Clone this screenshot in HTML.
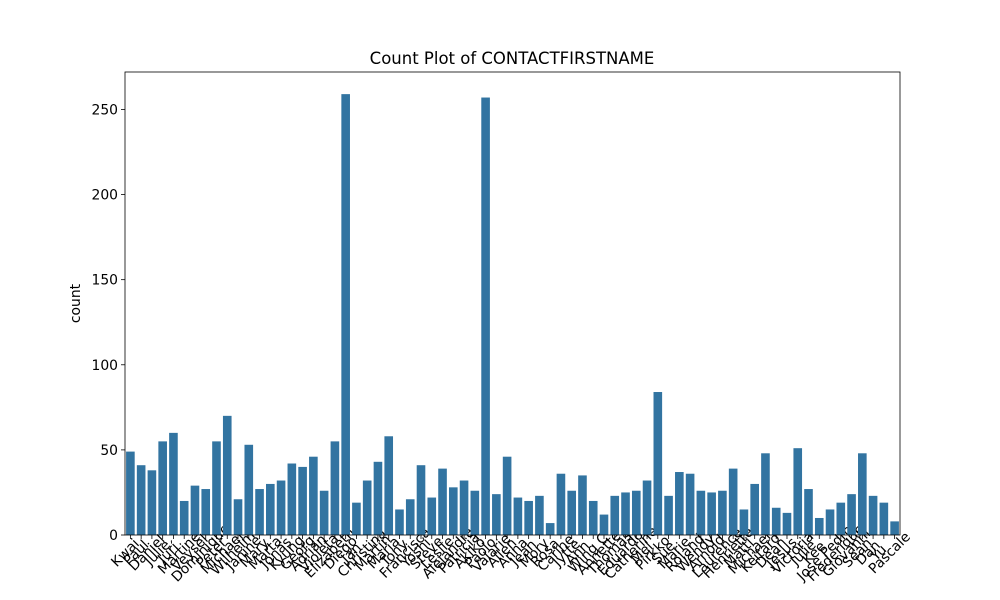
<!DOCTYPE html>
<html><head><meta charset="utf-8"><style>
body{margin:0;background:#fff}
svg{display:block;font-family:"DejaVu Sans","Liberation Sans",sans-serif}
</style></head><body>
<svg id="chart" width="1000" height="600" viewBox="0 0 1000 600"></svg>
<script>
const categories=["Kwai","Paul","Daniel","Julie","Jurí","Martine","Veysel","Dominique","Peter","Michael","Wilhelm","Janine","Mary","Marta","Jonas","Kyung","Georg","Adrian","Violeta","Elizabeth","Diego","Jan","Christina","Martín","Maria","Tony","Francisca","Yoshi","Steve","Leslie","Alejandra","Patricia","Akiko","Paolo","Valarie","Allen","Anna","Jean","Mory","Rosa","Carine","Jytte","Ann","Wing C","Annette","Thomas","Eduardo","Catherine","Mel","Pirkko","Sue","Marie","Roland","Wendy","Arnold","Laurence","Henriette","Matti","Michael","Keitaro","Dean","Jesus","Victoria","Julie","Kee","Jose Pedro","Frederique","Giovanni","Sean","Dan","Yu","Pascale"];
const counts=[49,41,38,55,60,20,29,27,55,70,21,53,27,30,32,42,40,46,26,55,259,19,32,43,58,15,21,41,22,39,28,32,26,257,24,46,22,20,23,7,36,26,35,20,12,23,25,26,32,84,23,37,36,26,25,26,39,15,30,48,16,13,51,27,10,15,19,24,48,23,19,8];
const yTicks=[0,50,100,150,200,250];
const svg=document.getElementById('chart');
const NS='http://www.w3.org/2000/svg';
const L=125,R=900,T=72,B=535;
const yMax=272;
const y=v=>B-(v/yMax)*(B-T);
const step=(R-L)/categories.length;
const x=i=>L+step*(i+0.5);
function mk(t,a){const e=document.createElementNS(NS,t);for(const k in a)e.setAttribute(k,a[k]);svg.appendChild(e);return e;}
const title=mk('text',{x:512,y:64,'text-anchor':'middle','font-size':16.5,fill:'#000'});
title.textContent='Count Plot of CONTACTFIRSTNAME';


categories.forEach((c,i)=>{
  const b=mk('rect',{x:x(i)-step*0.4,y:y(counts[i]),width:step*0.8,height:B-y(counts[i]),fill:'#3274a1'});
  
  
  mk('line',{x1:x(i),x2:x(i),y1:B,y2:B+4,stroke:'#000','stroke-width':0.8});
  const t=mk('text',{x:0,y:0,'text-anchor':'middle','font-size':13.9,fill:'#000',transform:`translate(${x(i)-2},${B+21}) rotate(-45)`});
  t.textContent=c;
  
  
});
yTicks.forEach(v=>{
  mk('line',{x1:L-4,x2:L,y1:y(v),y2:y(v),stroke:'#000','stroke-width':0.8});
  const t=mk('text',{x:L-7,y:y(v)+5,'text-anchor':'end','font-size':13.9,fill:'#000'});
  t.textContent=v;
  
  
});
const fr=mk('rect',{x:L,y:T,width:R-L,height:B-T,fill:'none',stroke:'#000','stroke-width':0.8});


const yl=mk('text',{x:0,y:0,'text-anchor':'middle','font-size':13.9,fill:'#000',transform:`translate(80,${(T+B)/2}) rotate(-90)`});
yl.textContent='count';


</script>
</body></html>
